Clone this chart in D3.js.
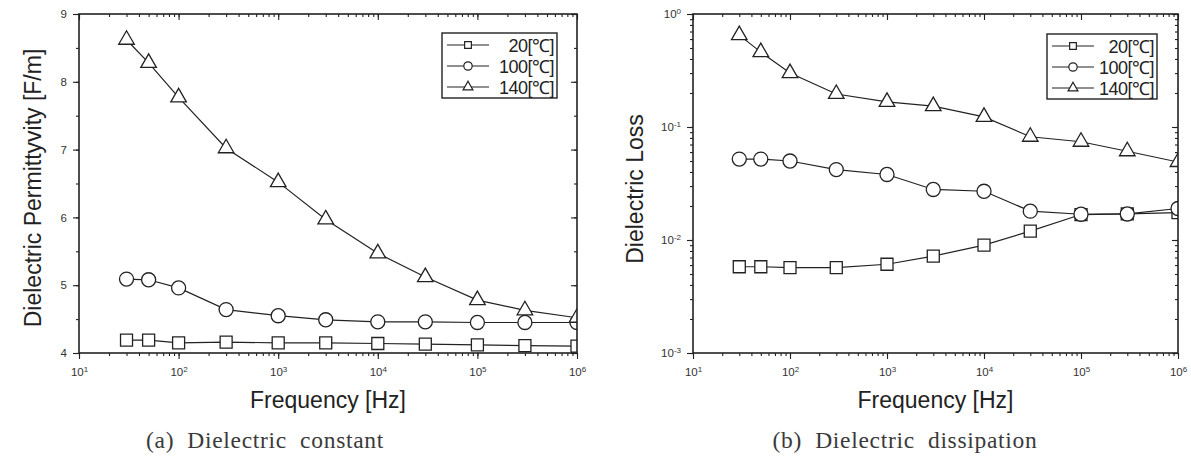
<!DOCTYPE html>
<html>
<head>
<meta charset="utf-8">
<script src="https://cdn.jsdelivr.net/npm/d3@7"></script>
<style>
body { margin: 0; background: #fff; }
svg { display: block; }
.tick text { font-family: Arial, "Liberation Sans", sans-serif; fill: #333; }
</style>
</head>
<body>
<svg width="1191" height="457"></svg>
<script>
// frequencies [Hz]
var freqs = [30, 50, 100, 300, 1e3, 3e3, 1e4, 3e4, 1e5, 3e5, 1e6];
var temps = ["20[℃]", "100[℃]", "140[℃]"];

// (a) dielectric permittivity
var permit20 = [4.19, 4.19, 4.15, 4.16, 4.15, 4.15, 4.14, 4.13, 4.12, 4.11, 4.10];
var permit100 = [5.09, 5.08, 4.96, 4.64, 4.55, 4.49, 4.46, 4.46, 4.45, 4.45, 4.45];
var permit140 = [8.62, 8.28, 7.77, 7.02, 6.52, 5.97, 5.47, 5.12, 4.78, 4.63, 4.52];

// (b) dielectric loss
var loss20 = [0.0058, 0.0058, 0.0057, 0.0057, 0.0061, 0.0072, 0.0090, 0.0120, 0.0168, 0.0170, 0.0175];
var loss100 = [0.052, 0.052, 0.050, 0.042, 0.038, 0.028, 0.027, 0.018, 0.0169, 0.0170, 0.019];
var loss140 = [0.65, 0.46, 0.30, 0.196, 0.167, 0.153, 0.123, 0.082, 0.074, 0.061, 0.049];

var xTickExps = [1, 2, 3, 4, 5, 6];
var permitTicks = [4, 5, 6, 7, 8, 9];
var lossTickExps = [-3, -2, -1, 0];

var svg = d3.select("svg");
var ink = "#222";
var font = "Arial, 'Liberation Sans', sans-serif";

var symbols = [d3.symbolSquare, d3.symbolCircle, d3.symbolTriangle];
var markSize = [144, 155, 105];
var legendSize = [45, 55, 42];

function minorLog(lo, hi) {
  var out = [];
  for (var e = lo; e < hi; e++) {
    for (var m = 1; m <= 9; m++) out.push(m * Math.pow(10, e));
  }
  out.push(Math.pow(10, hi));
  return out;
}

function supLabel(sel, exps) {
  sel.selectAll(".tick text").each(function(d) {
    var t = d3.select(this).text(null);
    var e = Math.round(Math.log10(d));
    if (exps.indexOf(e) < 0) return;
    t.append("tspan").text("10");
    t.append("tspan").attr("dy", "-0.5em").style("font-size", "8px").text(e);
  });
}

function panel(opt) {
  var g = svg.append("g").attr("transform", "translate(" + opt.left + "," + opt.top + ")");
  var w = opt.width, h = opt.height;
  var x = d3.scaleLog().domain([10, 1e6]).range([0, w]);
  var y = opt.y.range([h, 0]);

  g.append("clipPath").attr("id", opt.id).append("rect").attr("width", w).attr("height", h);

  // minor x ticks
  var xMinor = minorLog(1, 6);
  g.append("g").attr("transform", "translate(0," + h + ")")
    .call(d3.axisBottom(x).tickValues(xMinor).tickSize(3).tickFormat(""))
    .call(function(a) { a.select(".domain").remove(); });
  g.append("g")
    .call(d3.axisTop(x).tickValues(xMinor).tickSize(-3).tickFormat(""))
    .call(function(a) { a.select(".domain").remove(); });

  // major x
  var xMaj = xTickExps.map(function(e) { return Math.pow(10, e); });
  var xb = g.append("g").attr("transform", "translate(0," + h + ")")
    .call(d3.axisBottom(x).tickValues(xMaj).tickSize(6).tickPadding(9))
    .call(function(a) { a.select(".domain").remove(); });
  xb.selectAll("text").style("font-size", "11.5px");
  supLabel(xb, xTickExps);
  g.append("g")
    .call(d3.axisTop(x).tickValues(xMaj).tickSize(-6).tickFormat(""))
    .call(function(a) { a.select(".domain").remove(); });

  // y axes
  var yl = g.append("g").call(d3.axisLeft(y).tickValues(opt.yMajor).tickSize(6).tickPadding(6).tickFormat(opt.yFormat || null))
    .call(function(a) { a.select(".domain").remove(); });
  yl.selectAll("text").style("font-size", "11.5px");
  if (opt.yExps) supLabel(yl, opt.yExps);
  g.append("g").call(d3.axisLeft(y).tickValues(opt.yMinor).tickSize(3).tickFormat(""))
    .call(function(a) { a.select(".domain").remove(); });
  g.append("g").attr("transform", "translate(" + w + ",0)")
    .call(d3.axisRight(y).tickValues(opt.yMajor).tickSize(-6).tickFormat(""))
    .call(function(a) { a.select(".domain").remove(); });
  g.append("g").attr("transform", "translate(" + w + ",0)")
    .call(d3.axisRight(y).tickValues(opt.yMinor).tickSize(-3).tickFormat(""))
    .call(function(a) { a.select(".domain").remove(); });
  g.selectAll(".tick line").attr("stroke", ink).attr("stroke-width", 1.1);

  // series (clipped to the plot area)
  var plot = g.append("g").attr("clip-path", "url(#" + opt.id + ")");
  var line = d3.line().x(function(d) { return x(d[0]); }).y(function(d) { return y(d[1]); });
  opt.series.forEach(function(vals) {
    var pts = freqs.map(function(f, k) { return [f, vals[k]]; });
    plot.append("path").datum(pts).attr("d", line)
      .attr("fill", "none").attr("stroke", ink).attr("stroke-width", 1.2);
  });
  opt.series.forEach(function(vals, i) {
    plot.selectAll(null).data(freqs.map(function(f, k) { return [f, vals[k]]; }))
      .enter().append("path")
      .attr("d", d3.symbol().type(symbols[i]).size(markSize[i]))
      .attr("transform", function(d) { return "translate(" + x(d[0]) + "," + y(d[1]) + ")"; })
      .attr("fill", "#fff").attr("stroke", ink).attr("stroke-width", 1.3);
  });

  // frame
  g.append("rect").attr("width", w).attr("height", h)
    .attr("fill", "none").attr("stroke", ink).attr("stroke-width", 1.6);

  // legend
  var lg = g.append("g").attr("transform", "translate(" + opt.legend[0] + "," + opt.legend[1] + ")");
  lg.append("rect").attr("width", opt.legend[2]).attr("height", 65)
    .attr("fill", "#fff").attr("stroke", ink).attr("stroke-width", 1.4);
  temps.forEach(function(t, i) {
    var yy = 12 + i * 21;
    lg.append("line").attr("x1", 5).attr("x2", 47).attr("y1", yy).attr("y2", yy)
      .attr("stroke", ink).attr("stroke-width", 1.2);
    lg.append("path").attr("d", d3.symbol().type(symbols[i]).size(legendSize[i]))
      .attr("transform", "translate(26," + yy + ")")
      .attr("fill", "#fff").attr("stroke", ink).attr("stroke-width", 1.2);
    lg.append("text").attr("x", opt.legend[2] - 3).attr("y", yy + 6.5)
      .attr("text-anchor", "end").style("font-family", font).style("font-size", "18px")
      .style("letter-spacing", "-0.5px").attr("fill", "#222").text(t);
  });

  // axis titles
  g.append("text").attr("x", w / 2).attr("y", h + 55).attr("text-anchor", "middle")
    .style("font-family", font).style("font-size", "23px").attr("fill", "#222")
    .text("Frequency [Hz]");
  g.append("text").attr("transform", "translate(" + opt.yTitleX + "," + opt.yTitleY + ") rotate(-90)")
    .attr("text-anchor", "middle").style("font-family", font).style("font-size", "23px")
    .attr("fill", "#222").text(opt.yTitle);

  // caption
  svg.append("text").attr("x", opt.capX).attr("y", 448).attr("text-anchor", "middle")
    .style("font-family", "'Liberation Serif', 'DejaVu Serif', serif").style("font-size", "23.5px")
    .style("letter-spacing", "0.7px").attr("fill", "#3a3a3a").style("white-space", "pre")
    .text(opt.caption);
}

var permitMinor = d3.range(4, 9.01, 0.5);
panel({
  id: "clipA",
  left: 79, top: 14, width: 498, height: 339,
  y: d3.scaleLinear().domain([4, 9]),
  yMajor: permitTicks, yMinor: permitMinor, yFormat: d3.format("d"),
  series: [permit20, permit100, permit140],
  legend: [363, 19, 115],
  yTitle: "Dielectric Permittyvity [F/m]", yTitleX: -38, yTitleY: 174,
  caption: "(a)  Dielectric  constant", capX: 265
});

panel({
  id: "clipB",
  left: 693, top: 14, width: 485, height: 339,
  y: d3.scaleLog().domain([1e-3, 1]),
  yMajor: lossTickExps.map(function(e) { return Math.pow(10, e); }),
  yMinor: minorLog(-3, 0), yExps: lossTickExps,
  series: [loss20, loss100, loss140],
  legend: [354, 20, 110],
  yTitle: "Dielectric Loss", yTitleX: -50, yTitleY: 175,
  caption: "(b)  Dielectric  dissipation", capX: 905
});
</script>
</body>
</html>
